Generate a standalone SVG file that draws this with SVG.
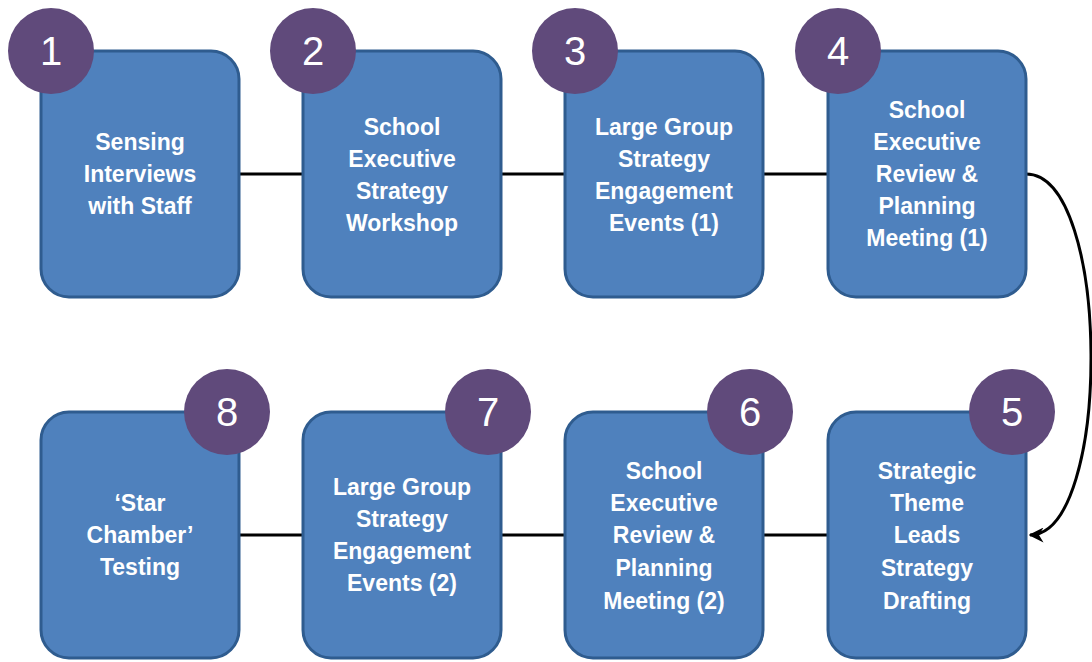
<svg xmlns="http://www.w3.org/2000/svg" width="1092" height="662" viewBox="0 0 1092 662">
<style>
.box{fill:#4F81BD;stroke:#2F5C8F;stroke-width:3}
.badge{fill:#604A7B}
.num{font-family:"Liberation Sans",Arial,sans-serif;font-size:40px;fill:#fff;text-anchor:middle}
.lbl{font-family:"Liberation Sans",Arial,sans-serif;font-weight:bold;font-size:23px;fill:#fff;text-anchor:middle}
.conn{stroke:#000;stroke-width:3;fill:none}
</style>
<defs>
<marker id="ah" viewBox="0 0 10 10" refX="9" refY="5" markerWidth="5" markerHeight="5" orient="auto" markerUnits="strokeWidth">
<path d="M0,0 L10,5 L0,10 L3,5 Z" fill="#000"/>
</marker>
</defs>
<g id="connectors">
<line class="conn" x1="239" y1="174" x2="303" y2="174"/>
<line class="conn" x1="501" y1="174" x2="565" y2="174"/>
<line class="conn" x1="763" y1="174" x2="828" y2="174"/>
<line class="conn" x1="239" y1="535" x2="303" y2="535"/>
<line class="conn" x1="501" y1="535" x2="565" y2="535"/>
<line class="conn" x1="763" y1="535" x2="828" y2="535"/>
<path class="conn" d="M1026,174 C1112,174 1112,535 1030,535" marker-end="url(#ah)"/>
</g>
<g id="node1">
<rect class="box" x="41" y="51" width="198" height="246" rx="28"/>
<circle class="badge" cx="51" cy="51" r="43"/>
<text class="num" x="51" y="65">1</text>
<text class="lbl" x="140"><tspan x="140" y="150">Sensing</tspan><tspan x="140" y="182">Interviews</tspan><tspan x="140" y="214">with Staff</tspan></text>
</g>
<g id="node2">
<rect class="box" x="303" y="51" width="198" height="246" rx="28"/>
<circle class="badge" cx="313" cy="51" r="43"/>
<text class="num" x="313" y="65">2</text>
<text class="lbl" x="402"><tspan x="402" y="135">School</tspan><tspan x="402" y="167">Executive</tspan><tspan x="402" y="199">Strategy</tspan><tspan x="402" y="231">Workshop</tspan></text>
</g>
<g id="node3">
<rect class="box" x="565" y="51" width="198" height="246" rx="28"/>
<circle class="badge" cx="575" cy="51" r="43"/>
<text class="num" x="575" y="65">3</text>
<text class="lbl" x="664"><tspan x="664" y="135">Large Group</tspan><tspan x="664" y="167">Strategy</tspan><tspan x="664" y="199">Engagement</tspan><tspan x="664" y="231">Events (1)</tspan></text>
</g>
<g id="node4">
<rect class="box" x="828" y="51" width="198" height="246" rx="28"/>
<circle class="badge" cx="838" cy="51" r="43"/>
<text class="num" x="838" y="65">4</text>
<text class="lbl" x="927"><tspan x="927" y="118">School</tspan><tspan x="927" y="150">Executive</tspan><tspan x="927" y="182">Review &amp;</tspan><tspan x="927" y="214">Planning</tspan><tspan x="927" y="246">Meeting (1)</tspan></text>
</g>
<g id="node5">
<rect class="box" x="828" y="412" width="198" height="246" rx="28"/>
<circle class="badge" cx="1012" cy="412" r="43"/>
<text class="num" x="1012" y="426">5</text>
<text class="lbl" x="927"><tspan x="927" y="479">Strategic</tspan><tspan x="927" y="511">Theme</tspan><tspan x="927" y="543">Leads</tspan><tspan x="927" y="576">Strategy</tspan><tspan x="927" y="609">Drafting</tspan></text>
</g>
<g id="node6">
<rect class="box" x="565" y="412" width="198" height="246" rx="28"/>
<circle class="badge" cx="750" cy="412" r="43"/>
<text class="num" x="750" y="426">6</text>
<text class="lbl" x="664"><tspan x="664" y="479">School</tspan><tspan x="664" y="511">Executive</tspan><tspan x="664" y="543">Review &amp;</tspan><tspan x="664" y="576">Planning</tspan><tspan x="664" y="609">Meeting (2)</tspan></text>
</g>
<g id="node7">
<rect class="box" x="303" y="412" width="198" height="246" rx="28"/>
<circle class="badge" cx="488" cy="412" r="43"/>
<text class="num" x="488" y="426">7</text>
<text class="lbl" x="402"><tspan x="402" y="495">Large Group</tspan><tspan x="402" y="527">Strategy</tspan><tspan x="402" y="559">Engagement</tspan><tspan x="402" y="591">Events (2)</tspan></text>
</g>
<g id="node8">
<rect class="box" x="41" y="412" width="198" height="246" rx="28"/>
<circle class="badge" cx="227" cy="412" r="43"/>
<text class="num" x="227" y="426">8</text>
<text class="lbl" x="140"><tspan x="140" y="511">‘Star</tspan><tspan x="140" y="543">Chamber’</tspan><tspan x="140" y="575">Testing</tspan></text>
</g>
</svg>
